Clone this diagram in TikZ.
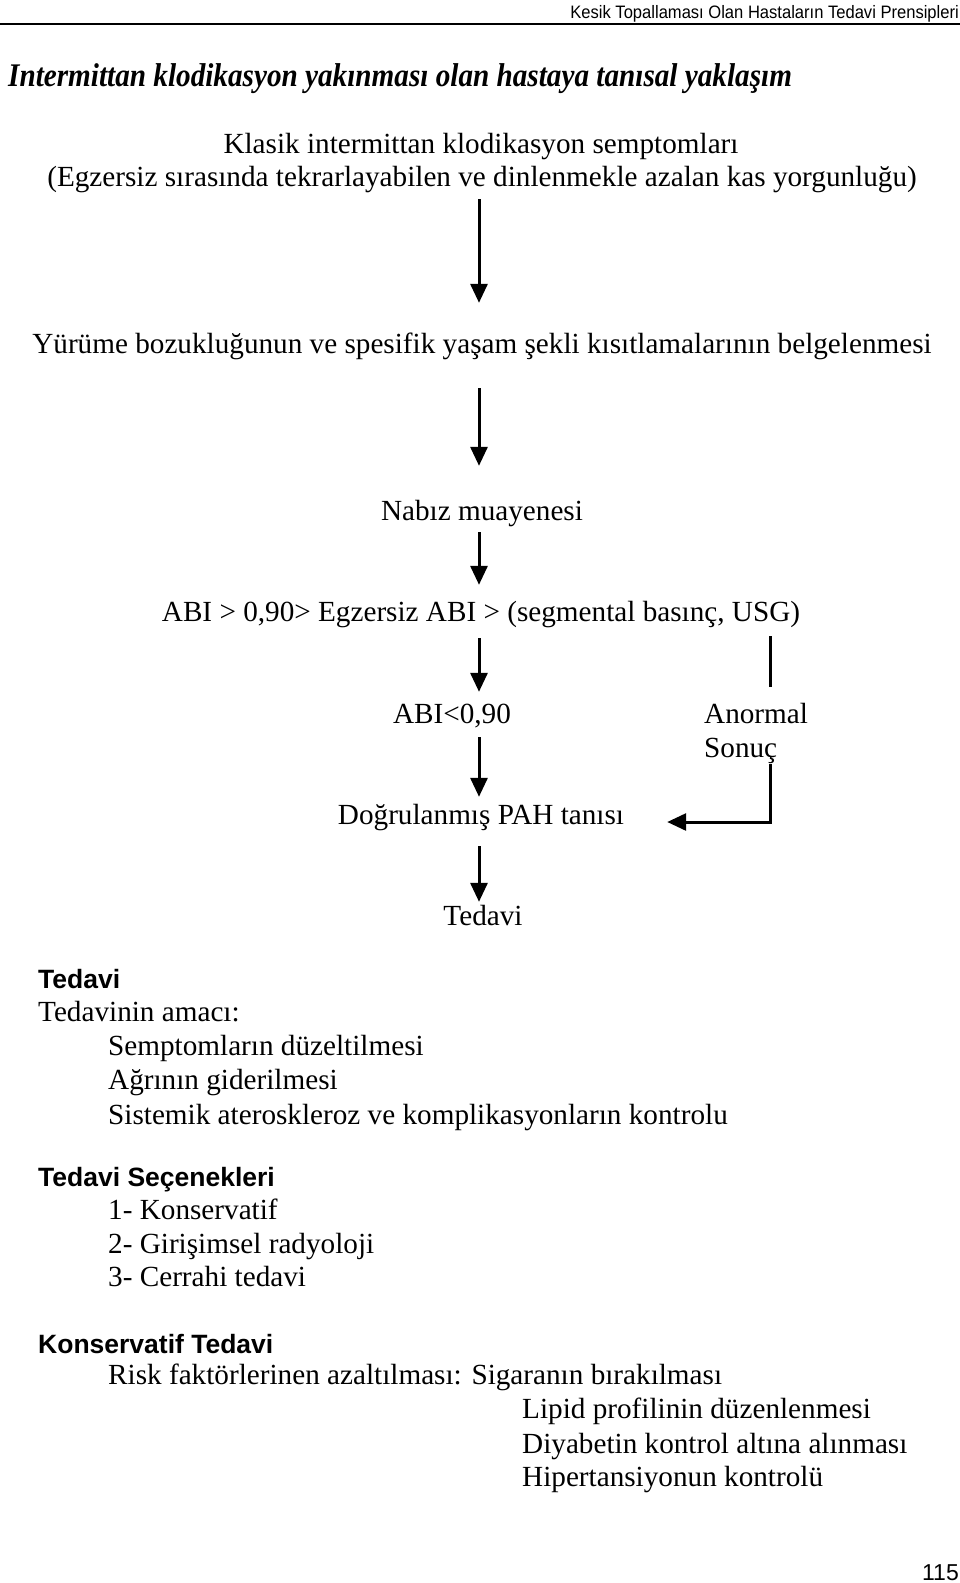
\documentclass[tikz,border=0pt]{standalone}
\usepackage{fontspec}
\setmainfont{Liberation Serif}
\setsansfont{Liberation Sans}
\usetikzlibrary{arrows.meta, positioning}
\tikzset{
  flow/.style={font=\fontsize{29.2}{34}\selectfont, inner sep=0, text height=19pt, text depth=7pt, anchor=base},
  txt/.style={flow, anchor=base west},
  head/.style={font=\sffamily\bfseries\fontsize{26.5}{30}\selectfont, inner sep=0, anchor=base west},
  arr/.style={line width=3pt, -{Triangle[width=17pt,length=19pt]}},
  bar/.style={line width=3pt}
}

\begin{document}
\begin{tikzpicture}[x=1pt, y=-1pt]
    \useasboundingbox (0,0) rectangle (960,1583);
    % page header
    \node[inner sep=0, anchor=base east, xscale=0.92, font=\sffamily\fontsize{18}{20}\selectfont] (runhead) at (959,18) {Kesik Topallaması Olan Hastaların Tedavi Prensipleri};
    \draw[line width=2pt] (0,24) -- (960,24);
    \node[inner sep=0, anchor=base west, xscale=0.885, font=\bfseries\itshape\fontsize{33}{38}\selectfont] (title) at (8,86) {Intermittan klodikasyon yakınması olan hastaya tanısal yaklaşım};

    % flow chart
    \coordinate (spine) at (479,0);
    \coordinate (rx) at (770,0);
    \node[flow] (klasik) at (481,153) {Klasik intermittan klodikasyon semptomları};
    \node[flow] (egz) at (482,186) {(Egzersiz sırasında tekrarlayabilen ve dinlenmekle azalan kas yorgunluğu)};
    \node[flow] (yurume) at (482,353) {Yürüme bozukluğunun ve spesifik yaşam şekli kısıtlamalarının belgelenmesi};
    \node[flow] (nabiz) at (482,520) {Nabız muayenesi};
    \node[flow] (abi) at (481,621) {ABI > 0,90> Egzersiz ABI > (segmental basınç, USG)};
    \node[flow] (abilow) at (452,723) {ABI<0,90};
    \node[txt] (anormal) at (704,723) {Anormal};
    \node[txt] (sonuc) at (704,757) {Sonuç};
    \node[flow] (dogru) at (481,824) {Doğrulanmış PAH tanısı};
    \node[flow] (tedavi) at (483,925) {Tedavi};

    \draw[arr, shorten <=6pt, shorten >=31pt] (egz.south -| spine) -- (yurume.north -| spine);
    \draw[arr, shorten <=28pt, shorten >=35pt] (yurume.south -| spine) -- (nabiz.north -| spine);
    \draw[arr, shorten <=5pt, shorten >=17pt] (nabiz.south -| spine) -- (abi.north -| spine);
    \draw[arr, shorten <=10pt, shorten >=12pt] (abi.south -| spine) -- (abilow.north -| spine);
    \draw[arr, shorten <=7pt, shorten >=8pt] (abilow.south -| spine) -- (dogru.north -| spine);
    \draw[arr, shorten <=15pt, shorten >=4pt] (dogru.south -| spine) -- (tedavi.north -| spine);
    \draw[bar, shorten <=8pt, shorten >=17pt] (abi.south -| rx) -- (anormal.north -| rx);
    \draw[arr, shorten >=43pt] (sonuc.south -| rx) |- ([yshift=-4pt]dogru.east);

    % treatment text
    \node[head] (h1) at (38,988) {Tedavi};
    \node[txt] (amac) at (38,1021) {Tedavinin amacı:};
    \node[txt] (a1) at (108,1055) {Semptomların düzeltilmesi};
    \node[txt] (a2) at (108,1089) {Ağrının giderilmesi};
    \node[txt] (a3) at (108,1124) {Sistemik ateroskleroz ve komplikasyonların kontrolu};
    \node[head] (h2) at (38,1186) {Tedavi Seçenekleri};
    \node[txt] (s1) at (108,1219) {1- Konservatif};
    \node[txt] (s2) at (108,1253) {2- Girişimsel radyoloji};
    \node[txt] (s3) at (108,1286) {3- Cerrahi tedavi};
    \node[head] (h3) at (38,1353) {Konservatif Tedavi};
    \node[txt] (risk) at (108,1384) {Risk faktörlerinen azaltılması: Sigaranın bırakılması};
    \node[txt] (r2) at (522,1418) {Lipid profilinin düzenlenmesi};
    \node[txt] (r3) at (522,1453) {Diyabetin kontrol altına alınması};
    \node[txt] (r4) at (522,1486) {Hipertansiyonun kontrolü};

    \node[inner sep=0, anchor=base east, font=\sffamily\fontsize{23}{24}\selectfont] (page) at (959,1580) {115};
\end{tikzpicture}
\end{document}
